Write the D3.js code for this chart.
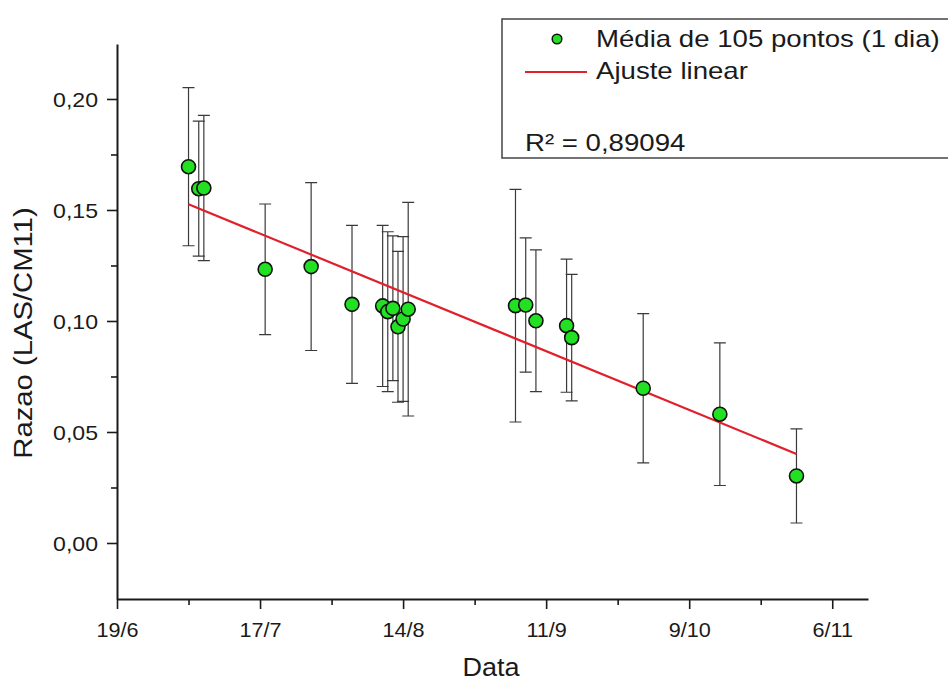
<!DOCTYPE html>
<html>
<head>
<meta charset="utf-8">
<script src="https://cdn.jsdelivr.net/npm/d3@7"></script>
<style>
  html, body { margin: 0; padding: 0; background: #ffffff; }
  svg { display: block; }
  text { font-family: "Liberation Sans", Arial, sans-serif; fill: #1a1a1a; }
</style>
</head>
<body>
<svg id="chart" width="948" height="682"></svg>
<script>
// ---------------- data ----------------
const dates  = ["2011-07-03","2011-07-05","2011-07-06","2011-07-18","2011-07-27","2011-08-04",
                "2011-08-10","2011-08-11","2011-08-12","2011-08-13","2011-08-14","2011-08-15",
                "2011-09-05","2011-09-07","2011-09-09","2011-09-15","2011-09-16",
                "2011-09-30","2011-10-15","2011-10-30"];
const ratios = [0.1695,0.1596,0.1599,0.1233,0.1245,0.1075,
                0.1068,0.1042,0.1057,0.0974,0.1009,0.1053,
                0.1069,0.1072,0.1001,0.0979,0.0925,
                0.0697,0.0580,0.0302];
const errors = [0.0356,0.0304,0.0327,0.0294,0.0378,0.0356,
                0.0363,0.0360,0.0326,0.0340,0.0371,0.0481,
                0.0524,0.0302,0.0319,0.0300,0.0285,
                0.0336,0.0321,0.0212];
const fitDates  = ["2011-07-03","2011-10-30"];
const fitValues = [0.1526, 0.0401];
const xDomain   = ["2011-06-19","2011-11-13"];
const yDomain   = [-0.02523, 0.22477];
const xMajorTicks = ["2011-06-19","2011-07-17","2011-08-14","2011-09-11","2011-10-09","2011-11-06"];
const xMinorTicks = ["2011-07-03","2011-07-31","2011-08-28","2011-09-25","2011-10-23"];
const yMajorTicks = [0.00,0.05,0.10,0.15,0.20];
const yMinorTicks = [0.025,0.075,0.125,0.175];
const legendLabels = ["Média de 105 pontos (1 dia)", "Ajuste linear", "R² = 0,89094"];
const xTitle = "Data";
const yTitle = "Razao (LAS/CM11)";

// ---------------- setup ----------------
const parse = d3.utcParse("%Y-%m-%d");
const fmtTick = d => d.getUTCDate() + "/" + (d.getUTCMonth() + 1);
const fmtY = d => d3.format(".2f")(d).replace(".", ",");

const svg = d3.select("#chart");
const mLeft = 117, mRight = 868, mTop = 44, mBottom = 599;

const x = d3.scaleUtc().domain(xDomain.map(parse)).range([mLeft, mRight]);
const y = d3.scaleLinear().domain(yDomain).range([mBottom, mTop]);

function stretch(sel, k) {
  sel.each(function () {
    const w = this.getComputedTextLength();
    this.setAttribute("textLength", w * k);
    this.setAttribute("lengthAdjust", "spacingAndGlyphs");
  });
}

const data = dates.map((d, i) => ({ date: parse(d), v: ratios[i], e: errors[i] }));

// ---------------- axes ----------------
const axisColor = "#1a1a1a";

const xAxisG = svg.append("g").attr("transform", `translate(0,${mBottom})`)
  .call(d3.axisBottom(x).tickValues(xMajorTicks.map(parse)).tickFormat(fmtTick)
        .tickSize(10).tickSizeOuter(0).tickPadding(13));
svg.append("g").attr("transform", `translate(0,${mBottom})`)
  .call(d3.axisBottom(x).tickValues(xMinorTicks.map(parse)).tickFormat("")
        .tickSize(6).tickSizeOuter(0))
  .call(g => g.select(".domain").remove());

const yAxisG = svg.append("g").attr("transform", `translate(${mLeft},0)`)
  .call(d3.axisLeft(y).tickValues(yMajorTicks).tickFormat(fmtY)
        .tickSize(10).tickSizeOuter(0).tickPadding(9));
svg.append("g").attr("transform", `translate(${mLeft},0)`)
  .call(d3.axisLeft(y).tickValues(yMinorTicks).tickFormat("")
        .tickSize(6).tickSizeOuter(0))
  .call(g => g.select(".domain").remove());

svg.selectAll(".domain").attr("stroke", axisColor).attr("stroke-width", 2);
svg.selectAll(".tick line").attr("stroke", axisColor).attr("stroke-width", 1.6);
xAxisG.selectAll("text").attr("font-size", 21).attr("fill", "#1a1a1a")
  .style("font-family", '"Liberation Sans", Arial, sans-serif');
stretch(xAxisG.selectAll("text"), 1.03);
yAxisG.selectAll("text").attr("font-size", 21).attr("fill", "#1a1a1a").attr("dy", "0.34em")
  .style("font-family", '"Liberation Sans", Arial, sans-serif');
stretch(yAxisG.selectAll("text"), 1.1);

// axis titles
const yt = svg.append("text")
  .attr("transform", "translate(32,333) rotate(-90)")
  .attr("text-anchor", "middle").attr("font-size", 25).text(yTitle);
stretch(yt, 1.17);
const xt = svg.append("text")
  .attr("x", 491).attr("y", 676)
  .attr("text-anchor", "middle").attr("font-size", 25).text(xTitle);
stretch(xt, 1.08);

// ---------------- error bars ----------------
const errColor = "#3a3a3a";
const eb = svg.append("g").attr("stroke", errColor).attr("stroke-width", 1.2).attr("fill", "none");
const capW = 6;
eb.selectAll("path").data(data).join("path")
  .attr("d", d => {
    const cx = x(d.date), y1 = y(d.v + d.e), y2 = y(d.v - d.e);
    return `M${cx},${y1}V${y2}M${cx - capW},${y1}H${cx + capW}M${cx - capW},${y2}H${cx + capW}`;
  });

// ---------------- fit line ----------------
const fitData = fitDates.map((d, i) => ({ date: parse(d), v: fitValues[i] }));
svg.append("path").datum(fitData)
  .attr("fill", "none").attr("stroke", "#e0202a").attr("stroke-width", 2.2)
  .attr("d", d3.line().x(d => x(d.date)).y(d => y(d.v)));

// ---------------- points ----------------
const green = "#22e022";
svg.append("g").selectAll("circle").data(data).join("circle")
  .attr("cx", d => x(d.date)).attr("cy", d => y(d.v)).attr("r", 7)
  .attr("fill", green).attr("stroke", "#111").attr("stroke-width", 1.6);

// ---------------- legend ----------------
const lg = svg.append("g");
lg.append("rect").attr("x", 502).attr("y", 19).attr("width", 470).attr("height", 139)
  .attr("fill", "#ffffff").attr("stroke", "#444").attr("stroke-width", 1.5);
lg.append("circle").attr("cx", 557).attr("cy", 39).attr("r", 4.8)
  .attr("fill", green).attr("stroke", "#111").attr("stroke-width", 1.5);
lg.append("line").attr("x1", 525).attr("x2", 587).attr("y1", 72).attr("y2", 72)
  .attr("stroke", "#e0202a").attr("stroke-width", 2.2);
const lt1 = lg.append("text").attr("x", 596).attr("y", 47).attr("font-size", 24).text(legendLabels[0]);
const lt2 = lg.append("text").attr("x", 596).attr("y", 79).attr("font-size", 24).text(legendLabels[1]);
const lt3 = lg.append("text").attr("x", 525).attr("y", 151).attr("font-size", 24).text(legendLabels[2]);
stretch(lt1, 1.15); stretch(lt2, 1.15); stretch(lt3, 1.15);
</script>
</body>
</html>
